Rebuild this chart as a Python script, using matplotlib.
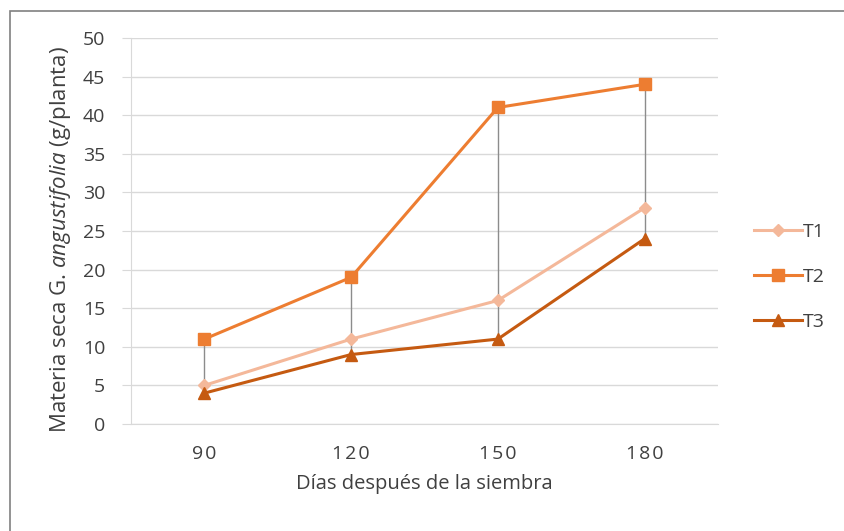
import matplotlib
matplotlib.use('Agg')
import matplotlib.pyplot as plt
import numpy as np
from matplotlib.patches import Rectangle

plt.rcParams['font.family'] = ['Open Sans', 'DejaVu Sans']
plt.rcParams['mathtext.fontset'] = 'custom'
plt.rcParams['mathtext.rm'] = 'Open Sans'
plt.rcParams['mathtext.it'] = 'Open Sans:italic'

dias = ['90', '120', '150', '180']
t1 = [5, 11, 16, 28]
t2 = [11, 19, 41, 44]
t3 = [4, 9, 11, 24]

c_t1 = '#F4B89A'
c_t2 = '#ED7D31'
c_t3 = '#C55A11'
txt = '#404040'

fig = plt.figure(figsize=(8.45, 5.31), dpi=100)
ax = fig.add_axes([131 / 845, 1 - 424 / 531, 587 / 845, 386 / 531])

x = np.arange(len(dias))

# high-low lines between the series at each date
lo = np.minimum(np.minimum(t1, t2), t3)
hi = np.maximum(np.maximum(t1, t2), t3)
ax.vlines(x, lo, hi, color='#8c8c8c', lw=1.0, zorder=2)

ax.plot(x, t1, color=c_t1, lw=2.2, marker='D', ms=6, label='T1', zorder=3)
ax.plot(x, t2, color=c_t2, lw=2.2, marker='s', ms=8, label='T2', zorder=4)
ax.plot(x, t3, color=c_t3, lw=2.2, marker='^', ms=8, label='T3', zorder=3)

ax.set_xlim(-0.5, 3.5)
ax.set_ylim(0, 50)
ax.set_yticks(np.arange(0, 51, 5))
ax.set_xticks(x)
# category labels are drawn letter-spaced
ax.set_xticklabels(['\u200a'.join(d) for d in dias])
ax.grid(axis='y', color='#d9d9d9', lw=1)
ax.set_axisbelow(True)
for s in ['top', 'right']:
    ax.spines[s].set_visible(False)
ax.spines['bottom'].set_color('#d9d9d9')
ax.spines['left'].set_color('#d9d9d9')
ax.tick_params(axis='x', length=0, labelsize=14, colors=txt, pad=15)
ax.tick_params(axis='y', length=6.5, color='#d9d9d9', labelsize=14, colors=txt, pad=12)

ax.set_xlabel('Días después de la siembra', fontsize=14.5, color=txt, labelpad=8)
ax.set_ylabel(r'Materia seca G. $\it{angustifolia}$ (g/planta)', fontsize=16,
              color=txt)
ax.yaxis.set_label_coords(-(131 - 73) / 587, 0.477)

leg = ax.legend(loc='center left', bbox_to_anchor=(1.031, 0.381), frameon=False,
                fontsize=14, handlelength=2.5, labelspacing=1.4, handletextpad=0.05)
for t in leg.get_texts():
    t.set_color(txt)

fig.patches.append(Rectangle((10 / 845, -0.01), 1.0, 1 - 11 / 531 + 0.01,
                             transform=fig.transFigure, fill=False,
                             edgecolor='#808080', lw=1.2))

fig.savefig('out.png', dpi=100)
